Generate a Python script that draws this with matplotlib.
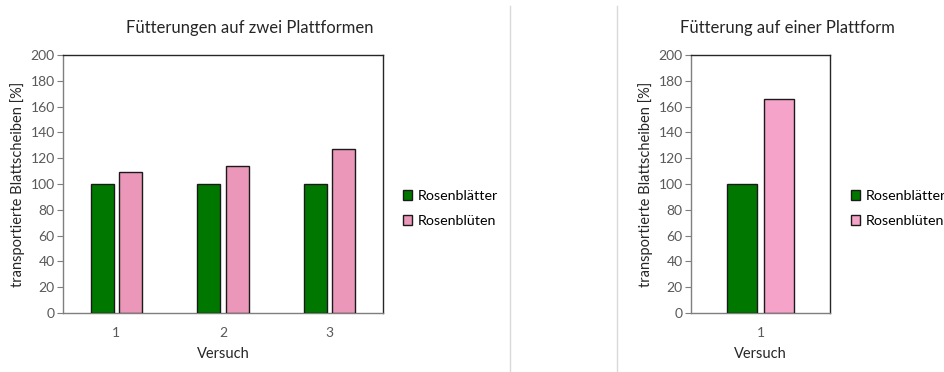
import matplotlib.pyplot as plt
from matplotlib.lines import Line2D

# Daten
versuche_zwei = ['1', '2', '3']
blaetter_zwei = [100, 100, 100]
blueten_zwei = [109, 114, 127]

versuche_eine = ['1']
blaetter_eine = [100]
blueten_eine = [166]

yticks = list(range(0, 201, 20))

gruen = '#007800'
rosa_zwei = '#EA97B9'
rosa_eine = '#F5A3C8'
grau = '#595959'

plt.rcParams['font.family'] = ['Lato', 'DejaVu Sans']

W, H = 944, 372
fig = plt.figure(figsize=(W / 100, H / 100), dpi=100)


def diagramm(ax, kategorien, blaetter, blueten, rosa, titel, titel_x, leg_x):
    x = list(range(len(kategorien)))
    b = 0.213
    d = 0.133
    ax.bar([i - d for i in x], blaetter, width=b, color=gruen,
           edgecolor='#1a1a1a', linewidth=1.0, label='Rosenblätter', zorder=3)
    ax.bar([i + d for i in x], blueten, width=b, color=rosa,
           edgecolor='#1a1a1a', linewidth=1.0, label='Rosenblüten', zorder=3)
    ax.set_xlim(-0.5, len(kategorien) - 0.5)
    ax.set_ylim(0, 200)
    ax.set_yticks(yticks)
    ax.set_xticks(x)
    ax.set_xticklabels(kategorien)
    ax.tick_params(axis='y', direction='out', length=4, width=0.8,
                   color='#7f7f7f', labelcolor=grau, labelsize=10, pad=2)
    ax.tick_params(axis='x', length=0, labelcolor=grau, labelsize=10, pad=10)
    for s in ['left', 'bottom']:
        ax.spines[s].set_color('#7f7f7f')
        ax.spines[s].set_linewidth(1.0)
    for s in ['top', 'right']:
        ax.spines[s].set_color('#262626')
        ax.spines[s].set_linewidth(1.0)
    ax.set_xlabel('Versuch', fontsize=10.5, color='#262626', labelpad=6)
    ax.set_ylabel('transportierte Blattscheiben [%]', fontsize=10.5,
                  color='#262626', labelpad=4)
    # Titel über dem ganzen Diagrammbereich zentriert
    fig.text(titel_x / W, 1 - 28 / H, titel, fontsize=12, color='#262626',
             ha='center', va='center')
    ax.legend(loc='center left', bbox_to_anchor=(leg_x, 0.405), frameon=False,
              fontsize=10.3, handlelength=0.65, handleheight=0.65,
              handletextpad=0.35, labelspacing=0.9, borderaxespad=0,
              borderpad=0)


ax1 = fig.add_axes([63 / W, 59 / H, 320 / W, 258 / H])
diagramm(ax1, versuche_zwei, blaetter_zwei, blueten_zwei, rosa_zwei,
         'Fütterungen auf zwei Plattformen', 249.5, (403 - 63) / 320)

ax2 = fig.add_axes([691 / W, 59 / H, 139 / W, 258 / H])
diagramm(ax2, versuche_eine, blaetter_eine, blueten_eine, rosa_eine,
         'Fütterung auf einer Plattform', 787, (851 - 691) / 139)

# Rahmen der beiden Diagrammbereiche
for xp in [510, 617]:
    fig.add_artist(Line2D([xp / W, xp / W], [0, 1 - 6 / H],
                          color='#d9d9d9', linewidth=1.0))

fig.savefig('out.png', dpi=100)
